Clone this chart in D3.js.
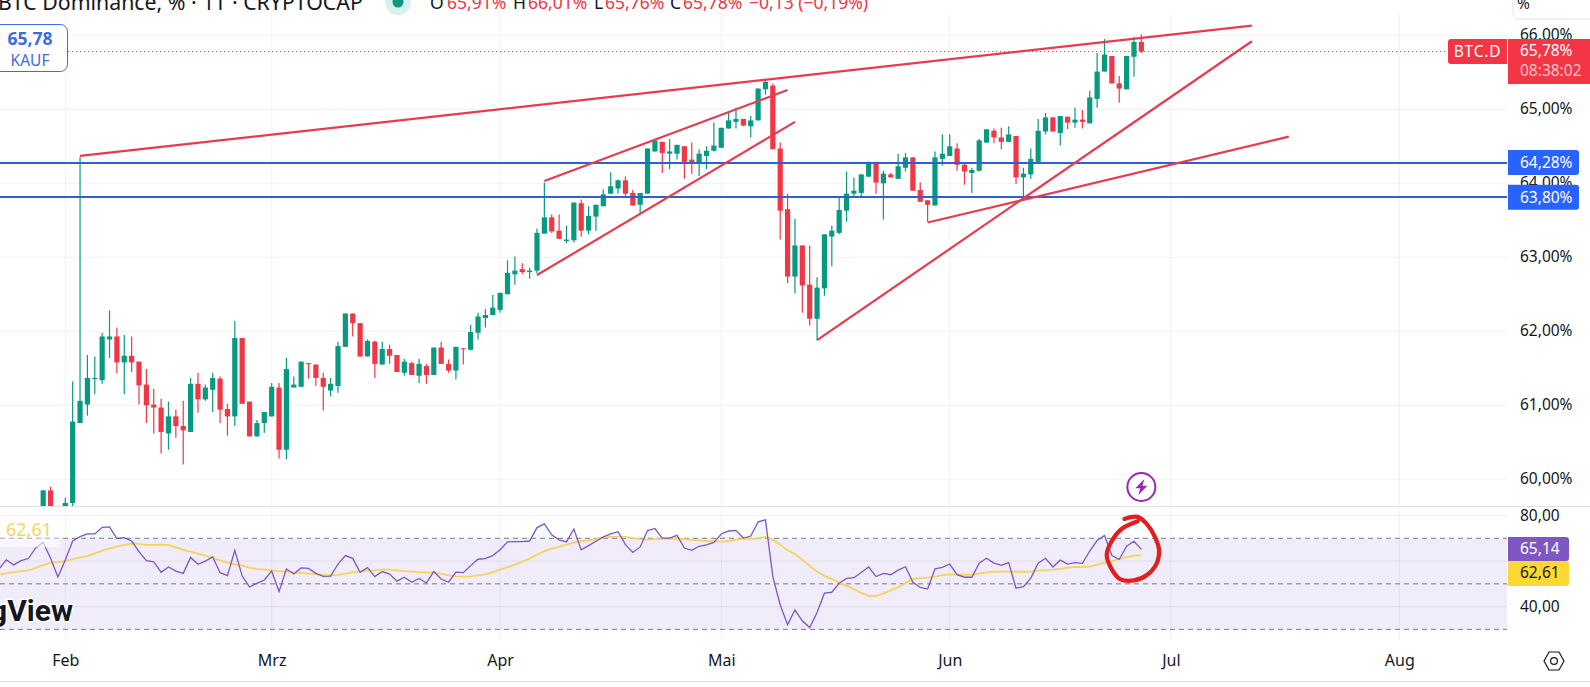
<!DOCTYPE html>
<html>
<head>
<meta charset="utf-8">
<script src="https://cdn.jsdelivr.net/npm/d3@7"></script>
<style>
  html, body { margin: 0; padding: 0; background: #fff; overflow: hidden; }
  text { font-family: "Noto Sans", "Open Sans", sans-serif; }
</style>
</head>
<body>
<div id="chart"></div>
<script>
// daily candles, first one is 29 Jan, last one is 27 Jun
var candleStart = "2025-01-29";
var opens = [
  59.50, 59.85, 59.55,
  59.50, 59.68, 60.76, 61.01, 61.36, 61.34, 61.89, 61.93, 61.58, 61.67, 61.59, 61.28, 61.01, 60.97, 60.62, 60.85, 60.72, 60.64, 61.29, 61.08, 61.21, 61.36, 60.95, 60.85, 61.91, 61.05, 60.58, 60.76,
  60.85, 61.24, 60.40, 61.24, 61.25, 61.57, 61.55, 61.37, 61.20, 61.26, 61.79, 62.24, 62.11, 61.66, 61.86, 61.55, 61.76, 61.68, 61.44, 61.57, 61.40, 61.53, 61.41, 61.78, 61.56, 61.47, 61.77, 61.75, 61.98, 62.18, 62.22,
  62.29, 62.50, 62.77, 62.84, 62.80, 62.82, 63.32, 63.54, 63.36, 63.22, 63.23, 63.73, 63.36, 63.55, 63.69, 63.86, 63.93, 64.04, 63.87, 63.71, 63.86, 64.43, 64.56, 64.40, 64.40, 64.50, 64.32, 64.27, 64.37, 64.44,
  64.48, 64.74, 64.83, 64.87, 64.77, 64.85, 65.27, 65.32, 64.47, 63.65, 62.74, 63.16, 62.63, 62.17, 62.58, 63.28, 63.33, 63.63, 63.86, 63.87, 64.09, 64.29, 64.00, 64.12, 64.06, 64.21, 64.35, 63.91, 63.77, 63.70, 64.33,
  64.37, 64.47, 64.25, 64.14, 64.17, 64.55, 64.71, 64.62, 64.56, 64.64, 64.08, 64.12, 64.29, 64.70, 64.89, 64.68, 64.90, 64.82, 64.86, 64.81, 65.14, 65.51, 65.72, 65.35, 65.27, 65.71, 65.91
];
var highs = [
  59.86, 59.90, 59.58,
  59.75, 61.32, 64.36, 61.68, 61.66, 61.98, 62.28, 62.05, 61.95, 61.93, 61.59, 61.49, 61.22, 61.09, 61.05, 60.94, 61.06, 61.37, 61.44, 61.28, 61.44, 61.39, 61.02, 62.14, 61.91, 61.05, 60.80, 60.91,
  61.30, 61.30, 61.64, 61.39, 61.59, 61.57, 61.55, 61.44, 61.37, 61.86, 62.24, 62.24, 62.11, 61.89, 61.87, 61.86, 61.82, 61.68, 61.63, 61.59, 61.63, 61.56, 61.78, 61.86, 61.62, 61.79, 61.77, 62.09, 62.25, 62.30, 62.49,
  62.52, 62.96, 63.01, 62.92, 62.86, 63.39, 64.01, 63.58, 63.58, 63.43, 63.74, 63.78, 63.69, 63.71, 63.92, 64.15, 64.05, 64.09, 63.91, 63.87, 64.47, 64.60, 64.56, 64.60, 64.52, 64.50, 64.55, 64.46, 64.50, 64.82,
  64.75, 64.97, 65.02, 64.87, 64.91, 65.28, 65.40, 65.35, 64.55, 63.86, 63.52, 63.16, 63.16, 62.73, 63.31, 63.43, 63.81, 64.16, 64.08, 64.12, 64.29, 64.29, 64.17, 64.14, 64.40, 64.41, 64.35, 64.01, 63.77, 64.43, 64.66,
  64.66, 64.54, 64.28, 64.21, 64.60, 64.73, 64.74, 64.75, 64.77, 64.64, 64.21, 64.47, 64.87, 64.95, 64.90, 64.91, 64.90, 65.02, 64.99, 65.25, 65.76, 65.95, 65.72, 65.45, 65.72, 65.98, 66.01
];
var lows = [
  59.40, 59.50, 59.40,
  59.40, 59.50, 60.76, 60.86, 61.15, 61.29, 61.64, 61.43, 61.15, 61.45, 61.01, 60.76, 60.62, 60.35, 60.40, 60.56, 60.20, 60.64, 60.90, 61.06, 60.91, 60.76, 60.59, 60.72, 61.02, 60.58, 60.58, 60.63,
  60.85, 60.28, 60.27, 61.24, 61.25, 61.36, 61.26, 60.93, 61.12, 61.17, 61.79, 61.93, 61.66, 61.66, 61.37, 61.55, 61.56, 61.45, 61.40, 61.41, 61.30, 61.29, 61.41, 61.56, 61.44, 61.35, 61.55, 61.74, 61.89, 62.05, 62.22,
  62.25, 62.50, 62.63, 62.77, 62.71, 62.78, 63.32, 63.33, 63.25, 63.19, 63.20, 63.28, 63.31, 63.36, 63.69, 63.86, 63.86, 63.83, 63.70, 63.60, 63.86, 64.43, 64.14, 64.19, 64.32, 64.06, 64.13, 64.10, 64.19, 64.43,
  64.48, 64.74, 64.74, 64.77, 64.62, 64.85, 65.20, 64.46, 63.24, 62.65, 62.51, 62.25, 62.08, 61.88, 62.48, 62.88, 63.31, 63.48, 63.83, 63.83, 64.09, 63.86, 63.51, 64.08, 64.06, 64.16, 63.90, 63.75, 63.48, 63.70, 64.24,
  64.37, 64.17, 63.98, 63.87, 64.16, 64.55, 64.54, 64.46, 64.56, 63.99, 63.77, 64.06, 64.29, 64.66, 64.70, 64.51, 64.73, 64.75, 64.74, 64.81, 65.02, 65.51, 65.35, 65.09, 65.27, 65.44, 65.76
];
var closes = [
  59.85, 59.55, 59.45,
  59.68, 60.78, 61.06, 61.37, 61.37, 61.93, 61.93, 61.58, 61.67, 61.58, 61.27, 61.00, 60.97, 60.64, 60.85, 60.72, 60.66, 61.29, 61.08, 61.24, 61.37, 60.94, 60.85, 61.91, 61.02, 60.58, 60.76, 60.91,
  61.25, 60.40, 61.49, 61.28, 61.59, 61.56, 61.37, 61.25, 61.29, 61.80, 62.24, 62.11, 61.66, 61.87, 61.56, 61.76, 61.67, 61.45, 61.59, 61.41, 61.56, 61.41, 61.78, 61.56, 61.47, 61.79, 61.76, 61.99, 62.20, 62.22, 62.32,
  62.52, 62.79, 62.82, 62.80, 62.82, 63.33, 63.54, 63.35, 63.25, 63.24, 63.74, 63.36, 63.56, 63.71, 63.85, 63.96, 64.04, 63.86, 63.70, 63.87, 64.47, 64.58, 64.41, 64.43, 64.52, 64.29, 64.27, 64.40, 64.44, 64.51,
  64.75, 64.85, 64.87, 64.78, 64.85, 65.28, 65.37, 64.46, 63.63, 62.74, 63.16, 62.62, 62.17, 62.59, 63.31, 63.36, 63.64, 63.86, 63.90, 64.12, 64.29, 64.01, 64.13, 64.08, 64.23, 64.35, 63.90, 63.75, 63.71, 64.35, 64.40,
  64.50, 64.25, 64.16, 64.18, 64.58, 64.73, 64.62, 64.56, 64.66, 64.08, 64.13, 64.33, 64.71, 64.89, 64.70, 64.91, 64.82, 64.86, 64.83, 65.16, 65.51, 65.74, 65.35, 65.28, 65.72, 65.91, 65.78
];

// rsi pane, first value is 23 Jan
var rsiStart = "2025-01-23";
var rsiValues = [
  56.5, 60.5, 58.3, 60.2, 61.1, 65.9, 68.2, 61.2, 53.0,
  60.5, 68.8, 70.7, 71.9, 71.9, 74.8, 75.0, 69.9, 70.3, 68.8, 64.1, 60.2, 59.7, 55.1, 57.4, 55.6, 54.6, 61.6, 58.6, 60.0, 61.8, 54.9, 53.6, 64.7, 53.4, 48.6, 50.2, 51.7,
  55.6, 46.6, 56.5, 54.3, 57.0, 56.8, 54.6, 53.3, 53.4, 58.7, 62.4, 61.2, 55.1, 57.1, 53.2, 55.4, 54.3, 51.2, 52.9, 50.7, 52.4, 50.4, 55.4, 52.1, 50.7, 55.1, 54.9, 58.0, 60.8, 61.1, 62.4,
  65.0, 68.4, 68.5, 68.5, 68.8, 74.7, 76.3, 71.5, 69.3, 68.4, 74.1, 64.9, 66.8, 68.7, 70.6, 71.9, 72.9, 67.2, 63.8, 66.2, 73.4, 74.3, 70.1, 70.1, 71.3, 65.7, 64.7, 66.5, 67.1, 68.2,
  71.9, 73.2, 73.5, 70.1, 71.0, 77.2, 78.1, 53.2, 40.7, 32.1, 38.5, 33.8, 30.8, 37.4, 45.9, 46.3, 50.3, 52.4, 52.7, 55.0, 57.4, 53.2, 54.6, 54.0, 56.0, 57.5, 50.7, 48.4, 47.7, 56.6, 57.2,
  58.7, 54.0, 52.9, 52.9, 59.1, 61.2, 59.1, 58.1, 59.3, 48.1, 48.8, 52.5, 59.1, 61.2, 57.4, 60.4, 58.7, 59.3, 59.0, 64.4, 69.0, 71.2, 62.4, 60.7, 66.5, 68.7, 65.14
];
var rsiAverage = [
  54.2, 54.6, 55.1, 55.6, 55.9, 57.0, 58.3, 59.2, 59.5,
  60.0, 60.9, 61.6, 62.2, 63.4, 64.6, 65.6, 66.3, 67.1, 67.7, 67.5, 67.1, 67.1, 67.2, 67.1, 66.0, 65.0, 64.1, 63.3, 62.4, 61.4, 60.3, 59.3, 58.6, 58.0, 57.1, 56.5, 56.2,
  55.9, 55.6, 55.4, 55.1, 54.9, 54.5, 54.2, 53.9, 53.7, 53.9, 54.5, 55.1, 55.5, 55.8, 55.9, 56.2, 56.2, 55.9, 55.6, 55.4, 55.1, 54.9, 54.9, 54.5, 53.7, 53.3, 53.2, 53.3, 53.7, 54.2, 55.1,
  56.2, 57.3, 58.4, 59.7, 61.2, 62.8, 64.4, 65.5, 66.2, 67.2, 68.1, 68.7, 69.1, 69.6, 70.4, 70.6, 70.6, 70.6, 70.1, 69.6, 69.4, 69.6, 69.7, 69.7, 69.9, 69.6, 69.3, 69.1, 68.8, 68.7,
  68.5, 68.8, 69.4, 69.7, 69.7, 70.0, 70.6, 69.4, 67.2, 64.7, 63.1, 60.6, 57.9, 55.4, 53.5, 52.1, 50.6, 49.1, 47.7, 46.0, 44.7, 44.7, 45.7, 47.1, 48.5, 50.3, 52.1, 52.5, 52.7, 53.2, 53.8,
  54.1, 54.1, 54.0, 54.0, 54.6, 55.0, 55.3, 55.4, 55.4, 55.3, 55.3, 55.4, 55.9, 56.0, 56.2, 56.6, 57.1, 57.4, 57.4, 57.5, 58.4, 59.3, 59.9, 60.9, 61.7, 62.4, 62.61
];

// tick labels
var priceTicks = [60, 61, 62, 63, 64, 65, 66];
var rsiTicks = [40, 80];
var rsiGrid = [40, 60, 80];
var rsiBands = [30, 50, 70];
var monthDates = ["2025-02-01", "2025-03-01", "2025-04-01", "2025-05-01", "2025-06-01", "2025-07-01", "2025-08-01"];
var monthNames = ["Feb", "Mrz", "Apr", "Mai", "Jun", "Jul", "Aug"];

// drawings on the chart, [date, value]
var trendLines = [
  [["2025-02-03", 64.37], ["2025-07-12", 66.13]],
  [["2025-04-07", 64.03], ["2025-05-10", 65.26]],
  [["2025-04-06", 62.76], ["2025-05-11", 64.83]],
  [["2025-05-14", 61.88], ["2025-07-12", 65.92]],
  [["2025-05-29", 63.47], ["2025-07-17", 64.63]]
];
var levels = [64.28, 63.81];
var levelLabels = ["64,28%", "63,80%"];
var lastPrice = 65.78;

// hand drawn circle around the end of the rsi, [days after 1 Feb, rsi]
var circlePoints = [
  [143.7, 78.5], [145.5, 79.4], [146.8, 76.0], [147.8, 70.9], [148.4, 65.0], [148.1, 59.1], [146.8, 54.0],
  [145.0, 51.5], [143.1, 52.1], [141.9, 56.9], [141.3, 62.8], [142.1, 69.4], [143.4, 74.3], [145.5, 77.5]
];

var green = "#089981", red = "#f23645", blue = "#2962ff", gridColor = "#f0f3fa", textColor = "#131722";
var width = 1590, height = 687, plotRight = 1507;

var parseDay = d3.utcParse("%Y-%m-%d");
var deLocale = d3.formatLocale({ decimal: ",", thousands: ".", grouping: [3], currency: ["", " €"] });
var fmt2 = deLocale.format(".2f");

var x = d3.scaleUtc()
    .domain([parseDay("2025-02-01"), parseDay("2025-08-01")])
    .range([65.3, 1399.3]);
var y = d3.scaleLinear().domain([60, 66]).range([479.3, 35.3]);
var yRsi = d3.scaleLinear().domain([30, 80]).range([629.4, 515.5]);

var svg = d3.select("#chart").append("svg")
    .attr("width", width)
    .attr("height", height)
    .style("display", "block");

var defs = svg.append("defs");
defs.append("clipPath").attr("id", "mainClip").append("rect")
    .attr("x", 0).attr("y", 0).attr("width", plotRight).attr("height", 506);
defs.append("clipPath").attr("id", "overClip").append("rect")
    .attr("x", 0).attr("y", 506).attr("width", plotRight).attr("height", yRsi(70) - 506);

// rsi band
svg.append("rect")
    .attr("x", 0)
    .attr("y", yRsi(70))
    .attr("width", plotRight)
    .attr("height", yRsi(30) - yRsi(70))
    .attr("fill", "#f0ecf9");

// grid
svg.selectAll(".vgrid")
    .data(monthDates)
    .enter().append("line")
      .attr("class", "vgrid")
      .attr("x1", function(d) { return x(parseDay(d)); })
      .attr("x2", function(d) { return x(parseDay(d)); })
      .attr("y1", 14)
      .attr("y2", 640)
      .attr("stroke", "#2a2e39")
      .attr("stroke-opacity", 0.06);

svg.selectAll(".hgrid")
    .data(priceTicks)
    .enter().append("line")
      .attr("class", "hgrid")
      .attr("x1", 0)
      .attr("x2", plotRight)
      .attr("y1", function(d) { return y(d); })
      .attr("y2", function(d) { return y(d); })
      .attr("stroke", "#2a2e39")
      .attr("stroke-opacity", 0.06);

svg.selectAll(".rgrid")
    .data(rsiGrid)
    .enter().append("line")
      .attr("class", "rgrid")
      .attr("x1", 0)
      .attr("x2", plotRight)
      .attr("y1", function(d) { return yRsi(d); })
      .attr("y2", function(d) { return yRsi(d); })
      .attr("stroke", "#2a2e39")
      .attr("stroke-opacity", 0.07);

svg.selectAll(".band")
    .data(rsiBands)
    .enter().append("line")
      .attr("class", "band")
      .attr("x1", 0)
      .attr("x2", plotRight)
      .attr("y1", function(d) { return yRsi(d); })
      .attr("y2", function(d) { return yRsi(d); })
      .attr("stroke", "#787b86")
      .attr("stroke-dasharray", "5 4");

// pane separator and bottom edge
svg.append("line")
    .attr("x1", 0)
    .attr("x2", width)
    .attr("y1", 506.5)
    .attr("y2", 506.5)
    .attr("stroke", "#e0e3eb")
    .attr("stroke-width", 1.2);
svg.append("line")
    .attr("x1", 0)
    .attr("x2", width)
    .attr("y1", 681.5)
    .attr("y2", 681.5)
    .attr("stroke", "#e0e3eb");

// candles
var candles = opens.map(function(o, i) {
  return {
    date: d3.utcDay.offset(parseDay(candleStart), i),
    open: o,
    high: highs[i],
    low: lows[i],
    close: closes[i]
  };
});
var candleG = svg.append("g").attr("clip-path", "url(#mainClip)");
var candleWidth = 5.2;

candleG.selectAll(".wick")
    .data(candles)
    .enter().append("line")
      .attr("class", "wick")
      .attr("x1", function(d) { return x(d.date); })
      .attr("x2", function(d) { return x(d.date); })
      .attr("y1", function(d) { return y(d.high); })
      .attr("y2", function(d) { return y(d.low); })
      .attr("stroke", function(d) { return d.close >= d.open ? green : red; })
      .attr("stroke-width", 1.2);

candleG.selectAll(".body")
    .data(candles)
    .enter().append("rect")
      .attr("class", "body")
      .attr("x", function(d) { return x(d.date) - candleWidth / 2; })
      .attr("y", function(d) { return y(Math.max(d.open, d.close)); })
      .attr("width", candleWidth)
      .attr("height", function(d) { return Math.max(1, Math.abs(y(d.open) - y(d.close))); })
      .attr("fill", function(d) { return d.close >= d.open ? green : red; });

// last price line
svg.append("line")
    .attr("x1", 68)
    .attr("x2", 1447)
    .attr("y1", y(lastPrice))
    .attr("y2", y(lastPrice))
    .attr("stroke", red)
    .attr("stroke-dasharray", "1 3");

// drawn levels and trend lines
svg.selectAll(".level")
    .data(levels)
    .enter().append("line")
      .attr("class", "level")
      .attr("x1", 0)
      .attr("x2", plotRight)
      .attr("y1", function(d) { return y(d); })
      .attr("y2", function(d) { return y(d); })
      .attr("stroke", "#2f5fd0")
      .attr("stroke-width", 2)
      .attr("shape-rendering", "crispEdges");

var trendPath = d3.line()
    .x(function(d) { return x(parseDay(d[0])); })
    .y(function(d) { return y(d[1]); });

svg.selectAll(".trend")
    .data(trendLines)
    .enter().append("path")
      .attr("class", "trend")
      .attr("d", trendPath)
      .attr("fill", "none")
      .attr("stroke", "#e63b50")
      .attr("stroke-width", 2.2);

// rsi lines
function rsiData(values) {
  return values.map(function(v, i) {
    return { date: d3.utcDay.offset(parseDay(rsiStart), i), value: v };
  });
}
var rsiLine = d3.line()
    .x(function(d) { return x(d.date); })
    .y(function(d) { return yRsi(d.value); });
var rsiArea = d3.area()
    .x(function(d) { return x(d.date); })
    .y0(yRsi(70))
    .y1(function(d) { return yRsi(d.value); });

svg.append("path")
    .datum(rsiData(rsiValues))
    .attr("d", rsiArea)
    .attr("clip-path", "url(#overClip)")
    .attr("fill", green)
    .attr("fill-opacity", 0.06);

svg.append("path")
    .datum(rsiData(rsiAverage))
    .attr("d", rsiLine)
    .attr("fill", "none")
    .attr("stroke", "#f7d35c")
    .attr("stroke-width", 1.8);

svg.append("path")
    .datum(rsiData(rsiValues))
    .attr("d", rsiLine)
    .attr("fill", "none")
    .attr("stroke", "#7e57c2")
    .attr("stroke-width", 1.3);

// hand drawn circle
var circleLine = d3.line()
    .curve(d3.curveCatmullRom)
    .x(function(d) { return x(parseDay("2025-02-01")) + d[0] * (x(parseDay("2025-02-02")) - x(parseDay("2025-02-01"))); })
    .y(function(d) { return yRsi(d[1]); });

svg.append("path")
    .datum(circlePoints)
    .attr("d", circleLine)
    .attr("fill", "none")
    .attr("stroke", "#e0201f")
    .attr("stroke-width", 4.2)
    .attr("stroke-linecap", "round");

// lightning marker over the last day
var markerX = x(parseDay("2025-06-27"));
var marker = svg.append("g").attr("transform", "translate(" + markerX + ",487)");
marker.append("circle")
    .attr("r", 14)
    .attr("fill", "#fff")
    .attr("stroke", "#9c27b0")
    .attr("stroke-width", 2);
marker.append("path")
    .attr("d", "M3,-8 L-6,1.2 L-1,1.2 L-3,8 L6,-1.2 L1,-1.2 Z")
    .attr("fill", "#9c27b0");

// tv watermark
svg.append("text")
    .attr("x", 73)
    .attr("y", 620.5)
    .attr("text-anchor", "end")
    .attr("font-size", 30)
    .attr("font-weight", 700)
    .attr("fill", "#131722")
    .attr("stroke", "#fff")
    .attr("stroke-width", 3)
    .attr("paint-order", "stroke")
    .style("font-family", "Roboto")
    .text("TradingView");

// header
var legendY = 9;
svg.append("text")
    .attr("x", -2)
    .attr("y", 10)
    .attr("font-size", 21.3)
    .attr("fill", textColor)
    .text("BTC Dominance, % · 1T · CRYPTOCAP");

svg.append("circle").attr("cx", 398).attr("cy", 2).attr("r", 13).attr("fill", "#d9f1ec");
svg.append("circle").attr("cx", 398).attr("cy", 2).attr("r", 5.5).attr("fill", green);

var ohlc = [
  { label: "O", value: "65,91%", lx: 430, vx: 447 },
  { label: "H", value: "66,01%", lx: 513, vx: 528 },
  { label: "L", value: "65,76%", lx: 594, vx: 605 },
  { label: "C", value: "65,78%", lx: 670, vx: 683 }
];
ohlc.forEach(function(d) {
  svg.append("text").attr("x", d.lx).attr("y", legendY).attr("font-size", 17.5).attr("fill", textColor).text(d.label);
  svg.append("text").attr("x", d.vx).attr("y", legendY).attr("font-size", 17.5).attr("fill", red).text(d.value);
});
svg.append("text").attr("x", 749).attr("y", legendY).attr("font-size", 17.5).attr("fill", red).text("−0,13 (−0,19%)");

// price axis
var priceAxis = d3.axisRight(y)
    .tickValues(priceTicks)
    .tickSize(0)
    .tickPadding(13)
    .tickFormat(function(d) { return fmt2(d) + "%"; });
var priceG = svg.append("g")
    .attr("transform", "translate(" + plotRight + ",0)")
    .call(priceAxis);
priceG.select(".domain").remove();
priceG.selectAll("text")
    .attr("font-size", 15.5)
    .attr("fill", textColor)
    .attr("dy", "0.3em")
    .style("font-family", "'Noto Sans'");

// rsi axis
var rsiAxis = d3.axisRight(yRsi)
    .tickValues(rsiTicks)
    .tickSize(0)
    .tickPadding(13)
    .tickFormat(fmt2);
var rsiG = svg.append("g")
    .attr("transform", "translate(" + plotRight + ",0)")
    .call(rsiAxis);
rsiG.select(".domain").remove();
rsiG.selectAll("text")
    .attr("font-size", 15.5)
    .attr("fill", textColor)
    .attr("dy", "0.3em")
    .style("font-family", "'Noto Sans'");

// time axis
var timeAxis = d3.axisBottom(x)
    .tickValues(monthDates.map(parseDay))
    .tickSize(0)
    .tickPadding(0)
    .tickFormat(function(d, i) { return monthNames[i]; });
var timeG = svg.append("g")
    .attr("transform", "translate(0,655)")
    .call(timeAxis);
timeG.select(".domain").remove();
timeG.selectAll("text")
    .attr("font-size", 16)
    .attr("fill", textColor)
    .style("font-family", "'Noto Sans'");

// top right % box
svg.append("rect")
    .attr("x", 1513)
    .attr("y", -10)
    .attr("width", 100)
    .attr("height", 29)
    .attr("rx", 5)
    .attr("fill", "#fff")
    .attr("stroke", "#e0e3eb");
svg.append("text")
    .attr("x", 1517)
    .attr("y", 9)
    .attr("font-size", 15.5)
    .attr("fill", textColor)
    .text("%");

// tag with optional second row, rounded only on the free side
function tag(x0, y0, w, h, fill, roundRight, roundLeft) {
  var r = 3, x1 = x0 + w, y1 = y0 + h;
  var p = d3.path();
  p.moveTo(x0 + (roundLeft ? r : 0), y0);
  p.lineTo(x1 - (roundRight ? r : 0), y0);
  if (roundRight) p.quadraticCurveTo(x1, y0, x1, y0 + r);
  p.lineTo(x1, y1 - (roundRight ? r : 0));
  if (roundRight) p.quadraticCurveTo(x1, y1, x1 - r, y1);
  p.lineTo(x0 + (roundLeft ? r : 0), y1);
  if (roundLeft) p.quadraticCurveTo(x0, y1, x0, y1 - r);
  p.lineTo(x0, y0 + (roundLeft ? r : 0));
  if (roundLeft) p.quadraticCurveTo(x0, y0, x0 + r, y0);
  p.closePath();
  svg.append("path").attr("d", p.toString()).attr("fill", fill);
}
function tagText(tx, ty, str, fill, anchor) {
  return svg.append("text")
      .attr("x", tx)
      .attr("y", ty)
      .attr("dy", "0.35em")
      .attr("font-size", 15.5)
      .attr("fill", fill)
      .attr("text-anchor", anchor || "start")
      .text(str);
}

// blue level tags
levels.forEach(function(d, i) {
  var cy = y(d);
  tag(plotRight + 1, cy - 12.5, 71, 25, blue, true, false);
  tagText(1520, cy, levelLabels[i], "#fff");
});

// last price tag
var lastY = y(lastPrice);
tag(plotRight + 1, lastY - 12.5, 82, 45, red, false, false);
tagText(1520, lastY - 1, fmt2(lastPrice) + "%", "#fff");
tagText(1520, lastY + 19, "08:38:02", "#ffc4ca");
tag(1448, lastY - 12.5, 59, 25, red, false, true);
tagText(1477.5, lastY, "BTC.D", "#fff", "middle").style("letter-spacing", "0.8px");

// rsi tags
tag(plotRight + 1, 537, 61, 24, "#7e57c2", true, false);
tagText(1520, 549, fmt2(rsiValues[rsiValues.length - 1]), "#fff");
tag(plotRight + 1, 561, 61, 25, "#fdd835", true, false);
tagText(1520, 573, fmt2(rsiAverage[rsiAverage.length - 1]), textColor);

// rsi legend value
svg.append("rect")
    .attr("x", 0)
    .attr("y", yRsi(70))
    .attr("width", 60)
    .attr("height", 9)
    .attr("fill", "#fff")
    .attr("fill-opacity", 0.6);
svg.append("text")
    .attr("x", 6)
    .attr("y", 536)
    .attr("font-size", 18)
    .attr("fill", "#f7d35c")
    .text(fmt2(rsiAverage[rsiAverage.length - 1]));

// kauf button
svg.append("rect")
    .attr("x", -10)
    .attr("y", 24.5)
    .attr("width", 77.5)
    .attr("height", 47)
    .attr("rx", 7)
    .attr("fill", "#fff")
    .attr("stroke", "#3d6be0");
svg.append("text")
    .attr("x", 30)
    .attr("y", 45)
    .attr("text-anchor", "middle")
    .attr("font-size", 17.5)
    .attr("font-weight", 700)
    .attr("fill", "#3d6be0")
    .text(fmt2(lastPrice));
svg.append("text")
    .attr("x", 30)
    .attr("y", 65.5)
    .attr("text-anchor", "middle")
    .attr("font-size", 15.5)
    .attr("fill", "#3d6be0")
    .text("KAUF");

// settings icon
var gear = svg.append("g").attr("transform", "translate(1554,661)");
gear.append("path")
    .attr("d", "M-10,0 L-5,-9 L5,-9 L10,0 L5,9 L-5,9 Z")
    .attr("fill", "none")
    .attr("stroke", textColor)
    .attr("stroke-width", 1.2);
gear.append("circle")
    .attr("r", 3.4)
    .attr("fill", "none")
    .attr("stroke", textColor)
    .attr("stroke-width", 1.2);
</script>
</body>
</html>
